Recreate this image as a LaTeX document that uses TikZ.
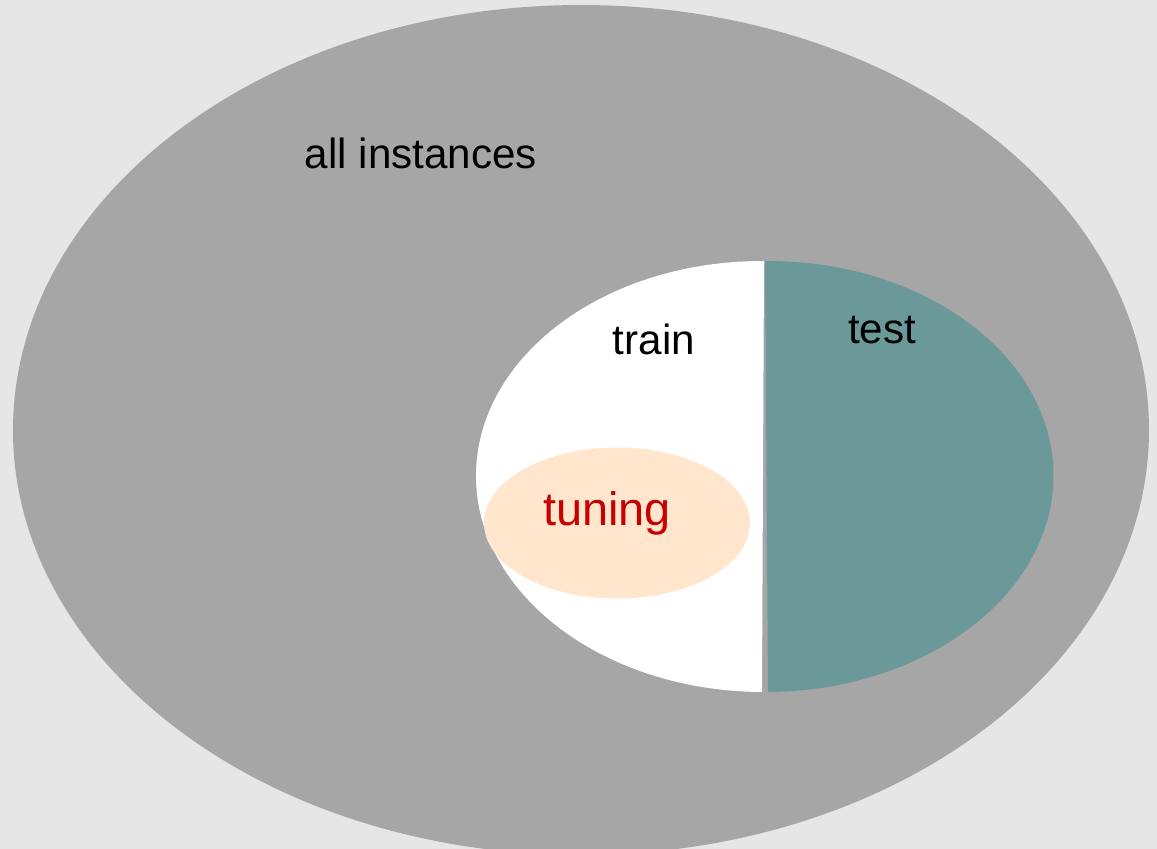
\documentclass[tikz,border=0pt]{standalone}
\usepackage{fontspec}
\setmainfont{Liberation Sans}
\usepackage{xcolor}
\usepackage{tikz}
\definecolor{bggray}{HTML}{E6E6E6}
\definecolor{allgray}{HTML}{A6A6A6}
\definecolor{testteal}{HTML}{6B9999}
\definecolor{tunepeach}{HTML}{FFE6CC}
\definecolor{tunered}{HTML}{C80000}
\begin{document}
\begin{tikzpicture}[x=0.02cm,y=-0.02cm,
    lbl/.style={font=\fontsize{24}{28}\selectfont}]
    \useasboundingbox (0,0) rectangle (1157,849);
    \clip (0,0) rectangle (1157,849);
    \fill[bggray] (0,0) rectangle (1157,849);
    \fill[allgray] (581,430) ellipse [x radius=568, y radius=425];
    \fill[white,rotate around={-0.27:(763,476.5)}] (763,261)
        arc[start angle=270,end angle=90,x radius=287,y radius=215.5] -- cycle;
    \fill[testteal,rotate around={0.4:(766.5,476.5)}] (766.5,261)
        arc[start angle=-90,end angle=90,x radius=287,y radius=215.5] -- cycle;
    \fill[tunepeach] (617,523) ellipse [x radius=133, y radius=75.5];
    \node[lbl] (all) at (421,153) {all instances};
    \node[lbl] (train) at (654,339) {train};
    \node[lbl] (test) at (882,330) {test};
    \node[lbl,font=\fontsize{26.7}{31}\selectfont,text=tunered] (tuning) at (607,513) {tuning};
\end{tikzpicture}
\end{document}
